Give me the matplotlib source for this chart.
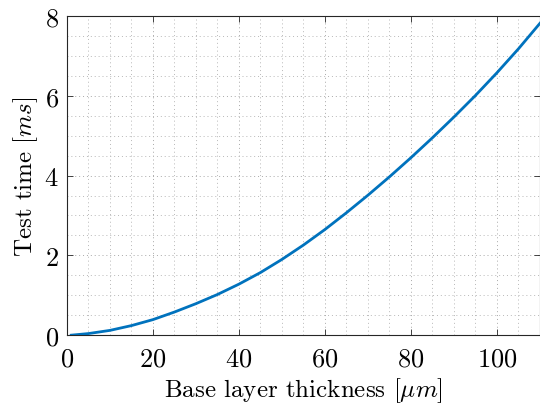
import matplotlib
matplotlib.use("Agg")
import matplotlib.pyplot as plt
from matplotlib.ticker import MultipleLocator

plt.rcParams["font.family"] = "serif"
plt.rcParams["font.serif"] = ["cmr10", "DejaVu Serif"]
plt.rcParams["mathtext.fontset"] = "cm"
plt.rcParams["axes.formatter.use_mathtext"] = True

# base layer thickness [um] and measured test time [ms]
thickness = [1, 5, 10, 15, 20, 25, 30, 35, 40, 45, 50, 55,
             60, 65, 70, 75, 80, 85, 90, 95, 100, 105, 110]
test_time = [0.0, 0.04, 0.12, 0.24, 0.39, 0.58, 0.79, 1.02, 1.28, 1.57, 1.90, 2.26,
             2.65, 3.07, 3.51, 3.97, 4.45, 4.95, 5.47, 6.01, 6.58, 7.18, 7.82]

fig = plt.figure(figsize=(5.4, 4.06), dpi=100)
ax = fig.add_axes([0.124, 0.172, 0.876, 0.786])

ax.plot(thickness, test_time, color="#0072BD", linewidth=2.0, zorder=3)

ax.set_xlim(0, 110)
ax.set_ylim(0, 8)
ax.xaxis.set_major_locator(MultipleLocator(20))
ax.xaxis.set_minor_locator(MultipleLocator(5))
ax.yaxis.set_major_locator(MultipleLocator(2))
ax.yaxis.set_minor_locator(MultipleLocator(0.5))

dots = (0, (1, 3))
ax.grid(which="major", linestyle=dots, linewidth=0.7, color="#a8a8a8")
ax.grid(which="minor", linestyle=dots, linewidth=0.7, color="#b8b8b8")
ax.set_axisbelow(True)

ax.tick_params(which="major", direction="in", length=4, width=0.6,
               top=True, right=True, labelsize=19, colors="#262626",
               labelcolor="black", pad=6)
ax.tick_params(axis="x", which="major", pad=8)
ax.tick_params(which="minor", length=0)
for s in ax.spines.values():
    s.set_linewidth(0.8)
    s.set_color("#262626")

ax.set_xlabel(r"Base layer thickness $[\mu m]$", fontsize=18, labelpad=4)
ax.set_ylabel(r"Test time $[ms]$", fontsize=18, labelpad=3)

fig.savefig("out.png", dpi=100)
